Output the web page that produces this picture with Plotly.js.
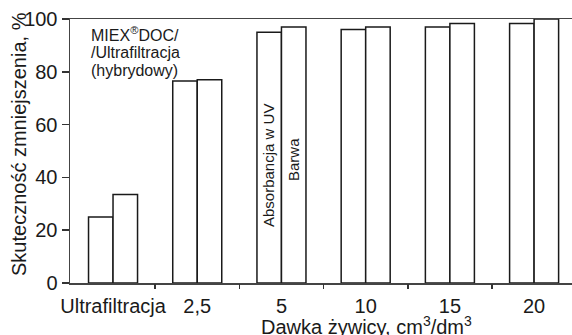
<!DOCTYPE html>
<html>
<head>
<meta charset="utf-8">
<script src="https://cdn.plot.ly/plotly-3.0.1.min.js"></script>
<style>html,body{margin:0;padding:0;background:#fff;}#chart{width:572px;height:335px;}</style>
</head>
<body>
<div id="chart"></div>
<script>
var categories = ['Ultrafiltracja', '2,5', '5', '10', '15', '20'];
var absorbancjaUV = [25, 76.5, 95, 96, 97, 98.3];
var barwa = [33.5, 77, 97, 97, 98.3, 100];
var yTicks = [0, 20, 40, 60, 80, 100];
var boundaryTicks = [0.5, 1.5, 2.5, 3.5, 4.5];

var FONT = 'Liberation Sans, Arial, Helvetica, sans-serif';
var TXT = '#1a1a1a';
var barStyle = {color: '#ffffff', line: {color: '#1a1a1a', width: 1.5}};

var traces = [
  {type: 'bar', x: categories, y: absorbancjaUV, name: 'Absorbancja w UV', marker: barStyle, showlegend: false, hoverinfo: 'none'},
  {type: 'bar', x: categories, y: barwa, name: 'Barwa', marker: barStyle, showlegend: false, hoverinfo: 'none'},
  {type: 'scatter', x: [], y: [], xaxis: 'x2', yaxis: 'y', showlegend: false, hoverinfo: 'none'}
];

var L = 70, T = 19, W = 572, H = 335, B = 52;
function px(xp) { return (xp - L) / (W - L); }
function py(yp) { return (H - B - yp) / (H - B - T); }

var layout = {
  width: W, height: H,
  margin: {l: L, r: 0, t: T, b: B, pad: 0},
  paper_bgcolor: '#ffffff', plot_bgcolor: '#ffffff',
  font: {family: FONT, color: TXT, size: 20},
  barmode: 'group', bargap: 0.418, bargroupgap: 0,
  xaxis: {
    type: 'category', range: [-0.511, 5.45], showgrid: false, zeroline: false,
    showline: true, mirror: true, linecolor: '#444', linewidth: 1.5,
    ticks: '', ticklabelstandoff: 4, tickfont: {size: 20, family: FONT, color: TXT}, fixedrange: true
  },
  xaxis2: {
    overlaying: 'x', anchor: 'y', side: 'bottom', type: 'linear', range: [-0.511, 5.45],
    tickmode: 'array', tickvals: boundaryTicks, showticklabels: false,
    ticks: 'outside', ticklen: 5, tickwidth: 1.5, tickcolor: '#333',
    showgrid: false, zeroline: false, showline: false
  },
  yaxis: {
    range: [0, 100], tickmode: 'array', tickvals: yTicks, showgrid: false, zeroline: false,
    showline: true, linecolor: '#444', linewidth: 1.5,
    ticks: 'outside', ticklen: 7, tickwidth: 1.5, tickcolor: '#333',
    tickfont: {size: 20, family: FONT, color: TXT}
  },
  annotations: [
    {xref: 'paper', yref: 'paper', x: px(19), y: py(144), text: 'Skuteczność zmniejszenia, %', textangle: -90,
     showarrow: false, xanchor: 'center', yanchor: 'middle', font: {size: 20, family: FONT, color: TXT}},
    {xref: 'paper', yref: 'paper', x: px(366), y: py(325), text: 'Dawka żywicy, cm<sup>3</sup>/dm<sup>3</sup>',
     showarrow: false, xanchor: 'center', yanchor: 'middle', font: {size: 20, family: FONT, color: TXT}},
    {xref: 'paper', yref: 'paper', x: px(89), y: py(34), text: 'MIEX<sup>®</sup>DOC/',
     showarrow: false, xanchor: 'left', yanchor: 'middle', font: {size: 16, family: FONT, color: TXT}},
    {xref: 'paper', yref: 'paper', x: px(89), y: py(52), text: '/Ultrafiltracja',
     showarrow: false, xanchor: 'left', yanchor: 'middle', font: {size: 16, family: FONT, color: TXT}},
    {xref: 'paper', yref: 'paper', x: px(89), y: py(70), text: '(hybrydowy)',
     showarrow: false, xanchor: 'left', yanchor: 'middle', font: {size: 16, family: FONT, color: TXT}},
    {xref: 'paper', yref: 'paper', x: px(268), y: py(166), text: 'Absorbancja w UV', textangle: -90,
     showarrow: false, xanchor: 'center', yanchor: 'middle', font: {size: 15, family: FONT, color: TXT}},
    {xref: 'paper', yref: 'paper', x: px(293), y: py(160), text: 'Barwa', textangle: -90,
     showarrow: false, xanchor: 'center', yanchor: 'middle', font: {size: 15, family: FONT, color: TXT}}
  ]
};

Plotly.newPlot('chart', traces, layout, {staticPlot: true, displayModeBar: false});
</script>
</body>
</html>
